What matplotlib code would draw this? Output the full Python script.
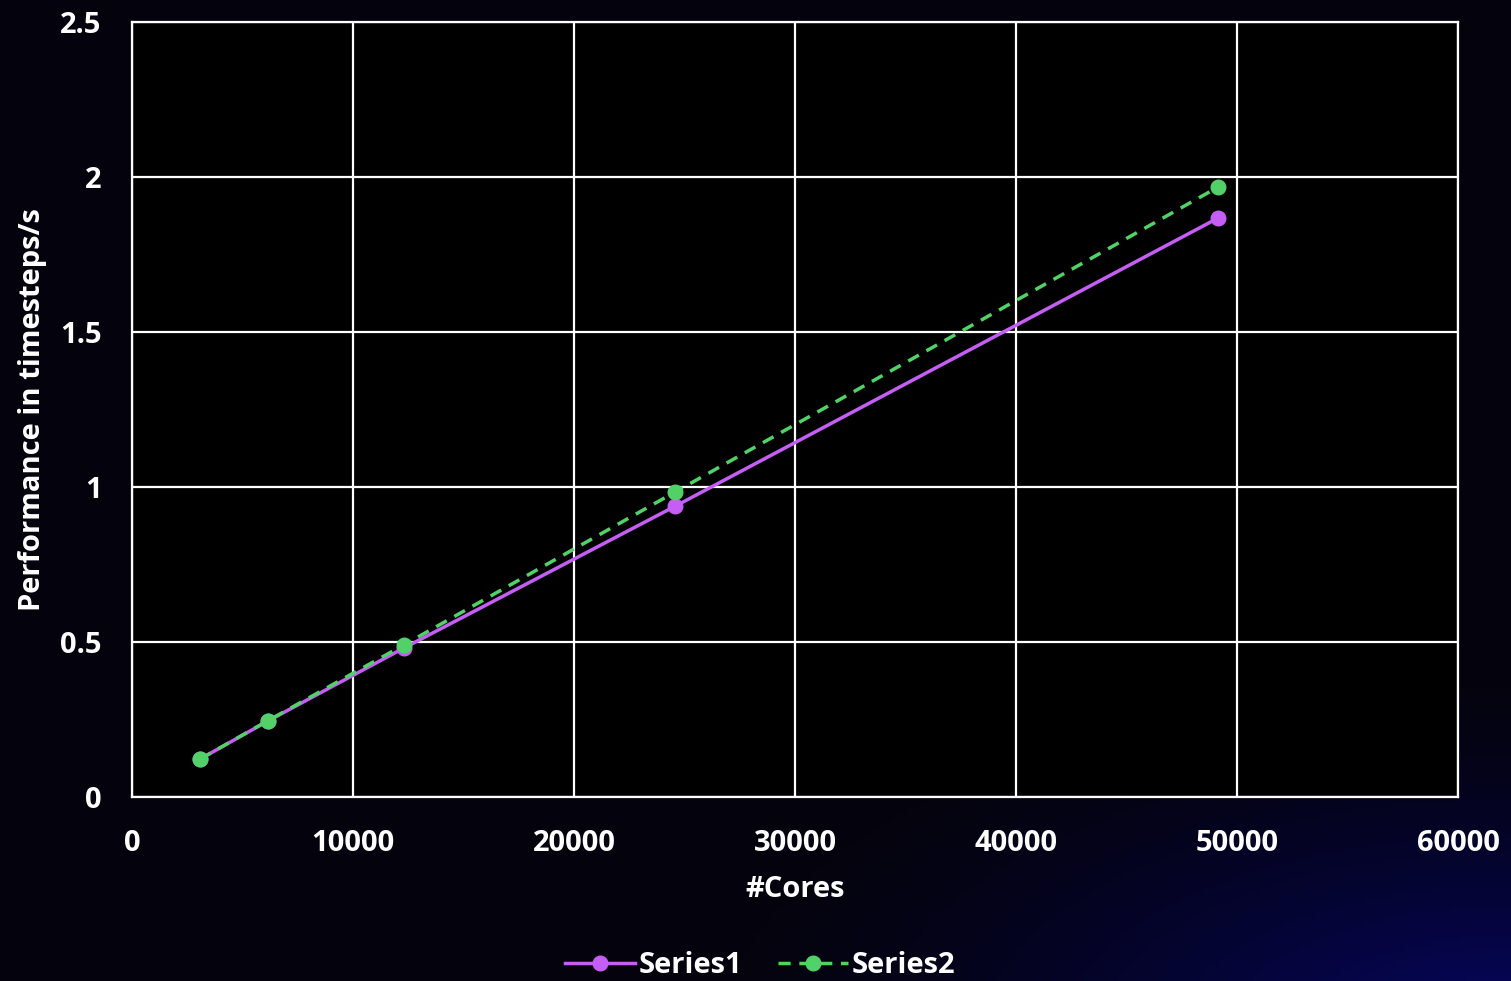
import numpy as np
import matplotlib.pyplot as plt
from matplotlib.lines import Line2D

# data
cores = [3072, 6144, 12288, 24576, 49152]
series1 = [0.122, 0.245, 0.48, 0.938, 1.868]
series2 = [0.122, 0.246, 0.49, 0.984, 1.968]
series_names = ["Series1", "Series2"]
x_ticks = [0, 10000, 20000, 30000, 40000, 50000, 60000]
y_ticks = [0, 0.5, 1, 1.5, 2, 2.5]
y_tick_labels = ["0", "0.5", "1", "1.5", "2", "2.5"]

purple = "#c45ef5"
green = "#52d168"
fs = 21

plt.rcParams["font.family"] = ["Open Sans", "DejaVu Sans"]
plt.rcParams["font.weight"] = "bold"

fig = plt.figure(figsize=(15.11, 9.81), dpi=100)

# background: near black with a blue glow at the bottom right
bg = fig.add_axes([0, 0, 1, 1], zorder=-10)
h, w = 200, 300
yy, xx = np.mgrid[0:h, 0:w]
d = np.sqrt(((xx - w * 1.0) / w) ** 2 * 1.0 + ((yy - h * 1.05) / h) ** 2 * 2.2)
glow = np.clip(1 - d / 0.55, 0, 1) ** 1.5
base = np.array([4, 3, 13]) / 255
blue = np.array([6, 6, 100]) / 255
img = base + glow[..., None] * (blue - base)
bg.imshow(img, aspect="auto", extent=[0, 1, 0, 1], origin="upper")
bg.axis("off")

ax = fig.add_axes([0.0874, 0.1876, 0.8776, 0.79])
ax.set_facecolor("black")

ax.plot(cores, series1, color=purple, lw=2.5, marker="o", ms=10.5, label=series_names[0], zorder=3)
ax.plot(cores, series2, color=green, lw=2.5, ls=(0, (3.5, 2.5)), marker="o", ms=10.5, label=series_names[1], zorder=4)

ax.set_xlim(0, 60000)
ax.set_ylim(0, 2.5)
ax.set_xticks(x_ticks)
ax.set_yticks(y_ticks)
ax.set_yticklabels(y_tick_labels)
ax.grid(True, color="white", lw=1.6)
ax.set_axisbelow(True)
for s in ax.spines.values():
    s.set_color("white")
    s.set_linewidth(1.6)
ax.tick_params(length=0, colors="white", labelsize=fs)
ax.tick_params(axis="x", pad=23)
ax.tick_params(axis="y", pad=22)
for lab in ax.get_xticklabels() + ax.get_yticklabels():
    lab.set_fontweight("bold")

ax.set_xlabel("#Cores", color="white", fontsize=fs, fontweight="bold", labelpad=12)
ax.set_ylabel("Performance in timesteps/s", color="white", fontsize=fs, fontweight="bold", labelpad=9)

handles = [
    Line2D([], [], color=purple, lw=2.5, marker="o", ms=10.5),
    Line2D([], [], color=green, lw=2.5, ls=(0, (3.5, 2.5)), marker="o", ms=10.5),
]
leg = fig.legend(handles, series_names, loc="center", bbox_to_anchor=(0.503, 0.016), ncol=2,
                 frameon=False, handlelength=2.4, columnspacing=1.2,
                 handletextpad=0.15, labelcolor="white", prop={"weight": "bold", "size": fs})

fig.savefig("out.png", dpi=100)
